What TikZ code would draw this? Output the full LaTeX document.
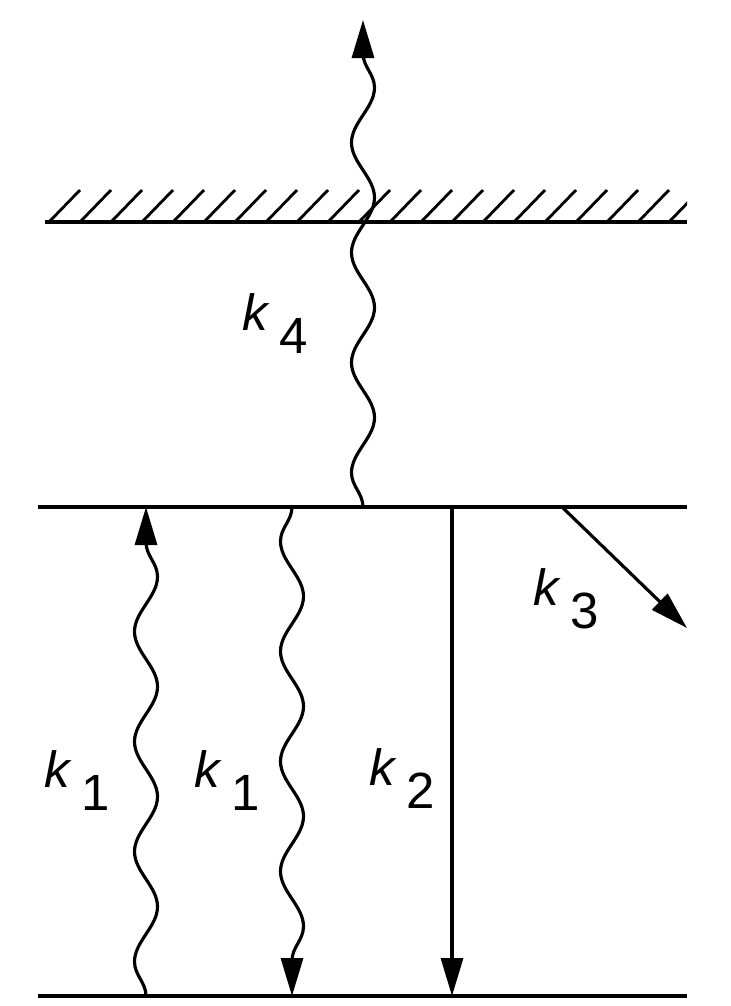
\documentclass[tikz,border=0pt]{standalone}
\usepackage{fontspec}
\setmainfont{Liberation Sans}
\usetikzlibrary{arrows.meta,decorations.pathmorphing}
\tikzset{
  level/.style={line width=1.2pt},
  hatch/.style={line width=0.8pt},
  photon/.style={line width=0.9pt, decorate,
    decoration={snake, segment length=11mm, amplitude=1.15mm, post length=2.9mm}},
  trans/.style={line width=0.9pt},
  tip/.style={-{Triangle[length=3.8mm,width=2.2mm]}},
  klabel/.style={anchor=base west, inner sep=0pt, font=\fontsize{14.5}{17}\selectfont},
}
\newcommand{\klab}[1]{\textit{k}\hspace{0.9mm}\raisebox{-2.3mm}{#1}}

\begin{document}
\begin{tikzpicture}[x=0.1mm, y=-0.1mm]
\useasboundingbox (0,0) rectangle (731,1006);
% levels
\coordinate (top-l) at (45,222);
\coordinate (top-r) at (687,222);
\coordinate (mid-l) at (38,507);
\coordinate (mid-r) at (687,507);
\coordinate (bot-l) at (38,996);
\coordinate (bot-r) at (687,996);
\draw[level] (top-l) -- (top-r);
\draw[level] (mid-l) -- (mid-r);
\draw[level] (bot-l) -- (bot-r);
% hatching of the surface
\begin{scope}
  \clip (45,150) rectangle (687,224);
  \foreach \i in {0,...,20}
    \draw[hatch] ({49+31*\i},222) -- ++(31,-32);
\end{scope}
% end points of the transitions
\coordinate (k1u-s) at (146,996);
\coordinate (k1u-e) at (146,507);
\coordinate (k1d-s) at (292,507);
\coordinate (k1d-e) at (292,996);
\coordinate (k2-s) at (452,507);
\coordinate (k2-e) at (452,996);
\coordinate (k3-s) at (562,507);
\coordinate (k3-e) at (687,628);
\coordinate (k4-s) at (363,507);
\coordinate (k4-e) at (363,20);
% transitions
\draw[photon, tip] (k1u-s) -- (k1u-e);
\draw[photon, tip, decoration={amplitude=-1.15mm}] (k1d-s) -- (k1d-e);
\draw[trans, tip] (k2-s) -- (k2-e);
\draw[trans, tip] (k3-s) -- (k3-e);
\draw[photon, tip] (k4-s) -- (k4-e);
% rate labels
\node[klabel] (lab-k1a) at (44,787) {\klab{1}};
\node[klabel] (lab-k1b) at (194,787) {\klab{1}};
\node[klabel] (lab-k2) at (369,785) {\klab{2}};
\node[klabel] (lab-k3) at (533,605) {\klab{3}};
\node[klabel] (lab-k4) at (242,330) {\klab{4}};
\end{tikzpicture}
\end{document}
